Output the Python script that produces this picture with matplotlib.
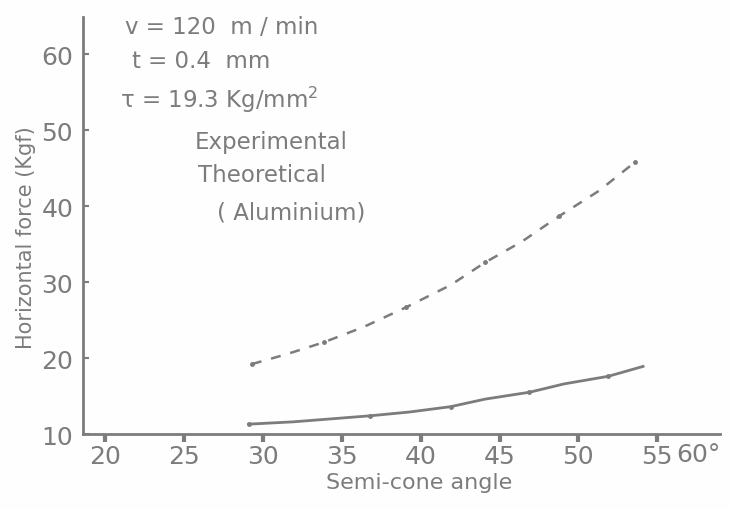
import matplotlib
matplotlib.use("Agg")
import matplotlib.pyplot as plt

# Data
theo_angle = [29.3, 31.5, 33.9, 36.4, 39.1, 41.9, 44.1, 46.4, 48.8, 51.3, 53.6]
theo_force = [19.2, 20.5, 22.1, 24.1, 26.7, 29.6, 32.6, 35.3, 38.7, 42.0, 45.8]
exp_angle = [29.1, 31.9, 36.8, 39.3, 41.9, 44.1, 46.9, 49.1, 51.9, 54.1]
exp_force = [11.3, 11.6, 12.4, 12.9, 13.6, 14.6, 15.5, 16.6, 17.6, 18.9]
x_ticks = [20, 25, 30, 35, 40, 45, 50, 55]
y_ticks = [10, 20, 30, 40, 50, 60]

ink = "#7c7c7c"
fig = plt.figure(figsize=(7.31, 5.10), dpi=100)
fig.patch.set_facecolor("#fefefe")
ax = fig.add_axes([0.1135, 0.147, 0.872, 0.818])
ax.set_facecolor("#fefefe")

ax.plot(theo_angle, theo_force, color=ink, lw=1.8, linestyle=(0, (4, 4)))
ax.plot(theo_angle[::2], theo_force[::2], 'o', color=ink, ms=2.5)
ax.plot(exp_angle, exp_force, color=ink, lw=2.0)
ax.plot(exp_angle[::2], exp_force[::2], 'o', color=ink, ms=2.5)

ax.set_xlim(18.6, 59.0)
ax.set_ylim(10, 64.9)
for s in ["top", "right"]:
    ax.spines[s].set_visible(False)
for s in ["left", "bottom"]:
    ax.spines[s].set_color(ink)
    ax.spines[s].set_linewidth(2.0)

ax.set_xticks(x_ticks)
ax.set_xticklabels([str(v) for v in x_ticks])
ax.set_yticks(y_ticks)
ax.set_yticklabels([str(v) for v in y_ticks])
ax.tick_params(axis="x", direction="out", length=6, width=3, color=ink,
               labelcolor=ink, labelsize=18, pad=1)
ax.tick_params(axis="y", direction="in", length=4, width=1.5, color=ink,
               labelcolor=ink, labelsize=18, pad=7)
ax.text(1.0, -0.018, "60°", transform=ax.transAxes, ha="right", va="top",
        fontsize=18, color=ink)

ax.set_xlabel("Semi-cone angle", fontsize=16, color=ink)
ax.xaxis.set_label_coords(0.528, -0.092)
fig.text(0.036, 0.535, "Horizontal force (Kgf)", rotation=90, ha="center",
         va="center", fontsize=15, color=ink)

lines = [
    (125, 27, "v = 120  m / min"),
    (132, 62, "t = 0.4  mm"),
    (120, 100, "τ = 19.3 Kg/mm$^2$"),
    (195, 143, "Experimental"),
    (198, 175, "Theoretical"),
    (217, 213, "( Aluminium)"),
]
for px, py, s in lines:
    fig.text(px / 731, 1 - py / 510, s, ha="left", va="center",
             fontsize=16.5, color=ink)

fig.savefig("out.png", dpi=100, facecolor=fig.get_facecolor())
